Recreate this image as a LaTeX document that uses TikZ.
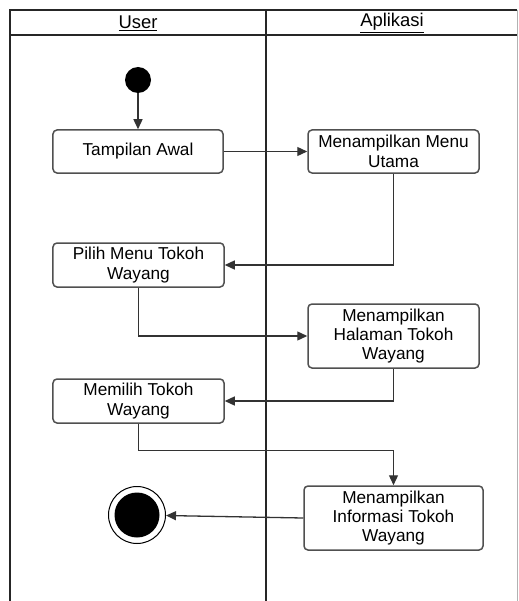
\documentclass[tikz,border=0pt]{standalone}
\usepackage{fontspec}
\setmainfont{Liberation Sans}
\usetikzlibrary{arrows.meta}
\definecolor{boxline}{HTML}{505050}
\definecolor{conn}{HTML}{333333}
\tikzset{
  actbox/.style={draw=boxline, line width=1.5bp, rounded corners=4bp, fill=white,
    align=center, inner sep=2bp, font=\fontsize{17.3}{19.5}\selectfont, text=black},
  flow/.style={draw=conn, line width=1.3bp, -{Triangle[length=10bp,width=9bp]}},
  frameline/.style={draw=black!85, line width=1.6bp},
  header/.style={font=\fontsize{18.5}{22}\selectfont, text=black}
}
\begin{document}
\begin{tikzpicture}[x=1bp,y=-1bp]
\useasboundingbox (0,0) rectangle (519,601);
% frame
\draw[frameline] (10,601) -- (10,10) -- (517,10);
\draw[draw=black!30, line width=1bp] (517,10) -- (517,601);
\draw[frameline] (10,35) -- (517,35);
\draw[frameline] (266,10) -- (266,601);
\node[header] (hu) at (138,23) {\underline{User}};
\node[header] (ha) at (392,23) {\underline{Aplikasi}};
% nodes
\node[circle, fill=black, minimum size=26bp, inner sep=0] (start) at (138,80) {};
\node[actbox, minimum width=170bp, minimum height=43bp] (ta) at (138,151.5) {Tampilan Awal};
\node[actbox, minimum width=171bp, minimum height=43bp] (mmu) at (393.5,151.5) {Menampilkan Menu\\Utama};
\node[actbox, minimum width=171bp, minimum height=44bp] (pm) at (138.5,265) {Pilih Menu Tokoh\\Wayang};
\node[actbox, minimum width=171bp, minimum height=64bp] (mh) at (393.5,336) {Menampilkan\\Halaman Tokoh\\Wayang};
\node[actbox, minimum width=171bp, minimum height=44bp] (mt) at (138.5,401) {Memilih Tokoh\\Wayang};
\node[actbox, minimum width=179bp, minimum height=64bp] (mi) at (393.5,518) {Menampilkan\\Informasi Tokoh\\Wayang};
\node[circle, draw=black, line width=1bp, fill=white, minimum size=57bp, inner sep=0] (end) at (137,515) {};
\node[circle, fill=black, minimum size=45bp, inner sep=0] (endin) at (end) {};
% connectors
\draw[flow] (start) -- (ta);
\draw[flow] (ta) -- (mmu);
\draw[flow] (mmu.south) |- (pm.east);
\draw[flow] (pm.south) |- (mh.west);
\draw[flow] (mh.south) |- (mt.east);
\draw[flow] (mt.south) -- ++(0,27) -| (mi.north);
\draw[flow] (mi.west) -- (end);
\end{tikzpicture}
\end{document}
